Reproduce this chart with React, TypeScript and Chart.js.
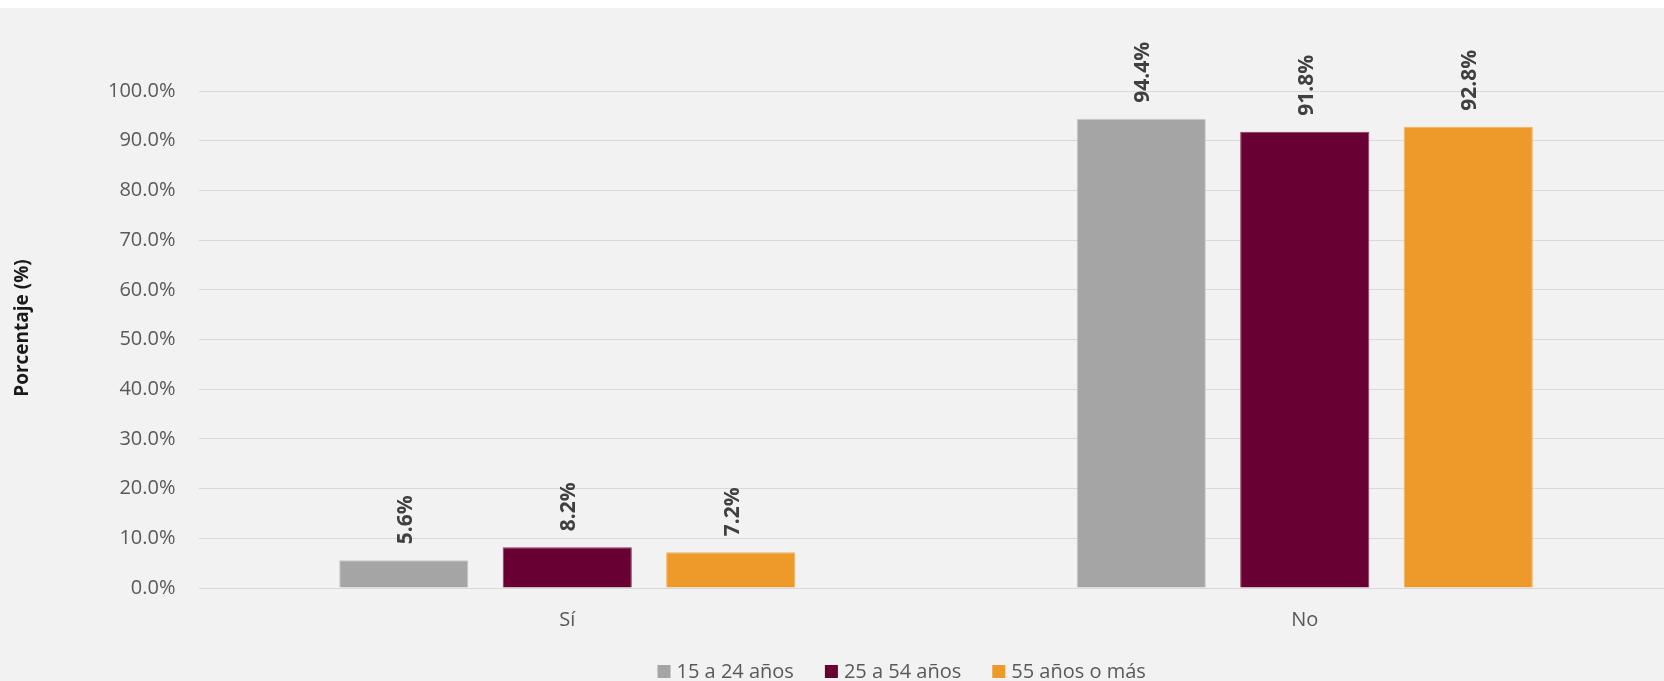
import { useEffect, useRef } from 'react';
import { Chart, registerables } from 'chart.js';

Chart.register(...registerables);

const categories = ['Sí', 'No'];
const seriesNames = ['15 a 24 años', '25 a 54 años', '55 años o más'];
const values15a24 = [5.6, 94.4];
const values25a54 = [8.2, 91.8];
const values55mas = [7.2, 92.8];
const yTickValues = [0, 10, 20, 30, 40, 50, 60, 70, 80, 90, 100];
const yAxisTitle = 'Porcentaje (%)';

const seriesColors = ['#A5A5A5', '#690033', '#EE9A2A'];
const seriesBorders = ['#C9C9C9', '#8A3A5E', '#F3B062'];

const FONT = '"Open Sans", "Noto Sans", "DejaVu Sans", sans-serif';
const CANVAS_W = 1700;
const CANVAS_H = 690;

const dataLabelPlugin = {
  id: 'dataLabels',
  afterDatasetsDraw(chart: any) {
    const ctx = chart.ctx;
    ctx.save();
    ctx.font = `bold 21px ${FONT}`;
    ctx.fillStyle = '#404040';
    ctx.textAlign = 'left';
    ctx.textBaseline = 'middle';
    chart.data.datasets.forEach((ds: any, i: number) => {
      const meta = chart.getDatasetMeta(i);
      meta.data.forEach((bar: any, j: number) => {
        const v = ds.data[j] as number;
        ctx.save();
        ctx.translate(bar.x + 2, bar.y - 16);
        ctx.rotate(-Math.PI / 2);
        ctx.fillText(v.toFixed(1) + '%', 0, 0);
        ctx.restore();
      });
    });
    ctx.restore();
  },
};

const axisTitlePlugin = {
  id: 'axisTitle',
  afterDraw(chart: any) {
    const ctx = chart.ctx;
    ctx.save();
    ctx.font = `bold 19px ${FONT}`;
    ctx.fillStyle = '#1a1a1a';
    ctx.textAlign = 'center';
    ctx.textBaseline = 'middle';
    ctx.translate(23, 320);
    ctx.rotate(-Math.PI / 2);
    ctx.fillText(yAxisTitle, 0, 0);
    ctx.restore();
  },
};

const legendPlugin = {
  id: 'customLegend',
  afterDraw(chart: any) {
    const ctx = chart.ctx;
    ctx.save();
    ctx.font = `20px ${FONT}`;
    const box = 13;
    const gapBox = 6;
    const gapItem = 31;
    const items = chart.data.datasets.map((ds: any) => ({
      label: ds.label as string,
      color: ds.backgroundColor as string,
      w: ctx.measureText(ds.label).width,
    }));
    const total =
      items.reduce((s: number, it: any) => s + box + gapBox + it.w, 0) +
      gapItem * (items.length - 1);
    let x = 901.7 - total / 2;
    const boxTop = 657;
    const baseline = 670.3;
    ctx.textAlign = 'left';
    ctx.textBaseline = 'alphabetic';
    items.forEach((it: any) => {
      ctx.fillStyle = it.color;
      ctx.fillRect(x, boxTop, box, box);
      x += box + gapBox;
      ctx.fillStyle = '#595959';
      ctx.fillText(it.label, x, baseline);
      x += it.w + gapItem;
    });
    ctx.restore();
  },
};

export default function App() {
  const canvasRef = useRef<HTMLCanvasElement | null>(null);

  useEffect(() => {
    if (!canvasRef.current) return;
    Chart.defaults.font.family = FONT;
    const seriesData = [values15a24, values25a54, values55mas];
    const chart = new Chart(canvasRef.current, {
      type: 'bar',
      data: {
        labels: categories,
        datasets: seriesNames.map((name, i) => ({
          label: name,
          data: seriesData[i],
          backgroundColor: seriesColors[i],
          borderColor: seriesBorders[i],
          borderWidth: 1,
          categoryPercentage: 0.665,
          barPercentage: 0.79,
        })),
      },
      options: {
        responsive: false,
        animation: false,
        devicePixelRatio: 1,
        layout: { padding: { top: 83, right: CANVAS_W - 1673.5, bottom: 60, left: 0 } },
        plugins: {
          legend: { display: false },
          tooltip: { enabled: false },
          title: { display: false },
        },
        scales: {
          x: {
            grid: { display: false, drawTicks: false },
            border: { display: false },
            ticks: { color: '#595959', font: { family: FONT, size: 20 }, padding: 20 },
            afterFit: (s: any) => {
              s.height = 50;
            },
          },
          y: {
            min: 0,
            max: 100,
            afterBuildTicks: (s: any) => {
              s.ticks = yTickValues.map((v) => ({ value: v }));
            },
            ticks: {
              stepSize: 10,
              color: '#595959',
              font: { family: FONT, size: 20 },
              padding: 23,
              callback: (v: any) => Number(v).toFixed(1) + '%',
            },
            grid: { color: '#D9D9D9', lineWidth: 1, drawTicks: false },
            border: { display: false },
            afterFit: (s: any) => {
              s.width = 198.5;
            },
          },
        },
      },
      plugins: [dataLabelPlugin, axisTitlePlugin, legendPlugin],
    } as any);
    return () => chart.destroy();
  }, []);

  return (
    <div
      style={{
        position: 'fixed',
        top: 0,
        left: 0,
        width: '100vw',
        height: '100vh',
        overflow: 'hidden',
        background: '#ffffff',
      }}
    >
      <div
        style={{
          position: 'absolute',
          top: 8,
          left: 0,
          width: CANVAS_W,
          height: CANVAS_H,
          background: '#F2F2F2',
        }}
      >
        <canvas
          ref={canvasRef}
          width={CANVAS_W}
          height={CANVAS_H}
          style={{ display: 'block', width: CANVAS_W, height: CANVAS_H }}
        />
      </div>
    </div>
  );
}
